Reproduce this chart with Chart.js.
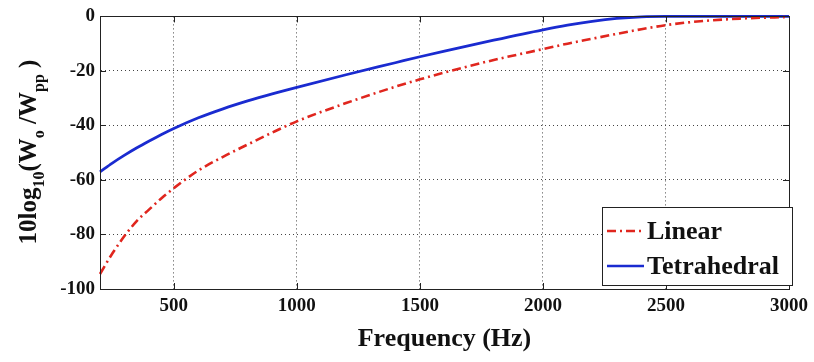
<!DOCTYPE html>
<html>
<head>
<meta charset="utf-8">
<script src="https://cdn.jsdelivr.net/npm/chart.js@4/dist/chart.umd.min.js"></script>
<style>
    html, body { margin: 0; padding: 0; background: #fff; }
    #wrap { width: 814px; height: 362px; position: relative; }
</style>
</head>
<body>
<div id="wrap"><canvas id="chart-atten"></canvas></div>
<script>
// Frequências (Hz) e atenuação 10log10(Wo/Wpp) em dB
const freqs = [200, 250, 300, 350, 400, 450, 500, 600, 700, 800, 900, 1000, 1200, 1400, 1500, 1600, 1800, 2000, 2100, 2200, 2300, 2400, 2500, 2600, 2800, 3000];
const linear = [-94.5, -87, -80.5, -75, -70.8, -66.7, -63, -56.5, -51.5, -47, -42.6, -38.5, -31.8, -25.8, -23.1, -20.6, -16, -12, -10, -8.2, -6.4, -4.7, -3.2, -2.1, -0.8, -0.2];
const tetrahedral = [-57, -53.8, -50.9, -48.2, -45.7, -43.3, -41.1, -37.2, -33.9, -31, -28.4, -26, -21.4, -17, -14.8, -12.7, -8.7, -4.9, -3.2, -1.8, -0.75, -0.15, 0, 0, 0, 0];
const seriesNames = ['Linear', 'Tetrahedral'];
const xTicks = [500, 1000, 1500, 2000, 2500, 3000];
const yTicks = [-100, -80, -60, -40, -20, 0];

const SERIF = '"Liberation Serif", "Times New Roman", serif';
const RED = '#e0261e';
const BLUE = '#1a2bd0';
const RED_DASH = [9, 4, 2, 4];

const pts = (ys) => freqs.map((f, i) => ({ x: f, y: ys[i] }));

// Moldura, ticks internos, legenda e rótulo do eixo Y (com subscritos)
const extras = {
    id: 'extras',
    afterDraw(chart) {
        const { ctx, chartArea: a, scales: { x, y } } = chart;
        ctx.save();
        ctx.strokeStyle = '#222';
        ctx.lineWidth = 1;
        ctx.setLineDash([]);
        ctx.strokeRect(Math.round(a.left) + 0.5, Math.round(a.top) + 0.5,
            Math.round(a.right - a.left), Math.round(a.bottom - a.top));

        // ticks para dentro
        ctx.beginPath();
        xTicks.forEach(v => {
            const px = Math.round(x.getPixelForValue(v)) + 0.5;
            ctx.moveTo(px, a.bottom); ctx.lineTo(px, a.bottom - 6);
            ctx.moveTo(px, a.top); ctx.lineTo(px, a.top + 6);
        });
        yTicks.forEach(v => {
            const py = Math.round(y.getPixelForValue(v)) + 0.5;
            ctx.moveTo(a.left, py); ctx.lineTo(a.left + 6, py);
            ctx.moveTo(a.right, py); ctx.lineTo(a.right - 6, py);
        });
        ctx.stroke();

        // legenda
        const bx = 602.5, by = 207.5, bw = 190, bh = 78;
        ctx.fillStyle = '#fff';
        ctx.fillRect(bx, by, bw, bh);
        ctx.strokeStyle = '#222';
        ctx.strokeRect(bx, by, bw, bh);
        const rows = [
            { label: seriesNames[0], color: RED, dash: RED_DASH, y: 231 },
            { label: seriesNames[1], color: BLUE, dash: [], y: 266 }
        ];
        rows.forEach(r => {
            ctx.beginPath();
            ctx.strokeStyle = r.color;
            ctx.lineWidth = 2.6;
            ctx.setLineDash(r.dash);
            ctx.moveTo(607, r.y); ctx.lineTo(644, r.y);
            ctx.stroke();
            ctx.setLineDash([]);
            ctx.fillStyle = '#111';
            ctx.font = 'bold 26px ' + SERIF;
            ctx.textAlign = 'left';
            ctx.textBaseline = 'middle';
            ctx.fillText(r.label, 647, r.y + 1);
        });

        // título do eixo Y: 10log10(Wo /Wpp )
        const parts = [
            ['10log', false], ['10', true], ['(W', false], ['o', true],
            [' /W', false], ['pp', true], [' )', false]
        ];
        const big = 'bold 25px ' + SERIF, small = 'bold 16px ' + SERIF;
        let total = 0;
        parts.forEach(([t, sub]) => { ctx.font = sub ? small : big; total += ctx.measureText(t).width; });
        ctx.translate(36, 152);
        ctx.rotate(-Math.PI / 2);
        ctx.fillStyle = '#111';
        ctx.textAlign = 'left';
        ctx.textBaseline = 'alphabetic';
        let cx = -total / 2;
        parts.forEach(([t, sub]) => {
            ctx.font = sub ? small : big;
            ctx.fillText(t, cx, sub ? 8 : 0);
            cx += ctx.measureText(t).width;
        });
        ctx.restore();
    }
};

const ctx = document.getElementById('chart-atten').getContext('2d');
new Chart(ctx, {
    type: 'line',
    data: {
        datasets: [
            {
                label: seriesNames[0],
                data: pts(linear),
                borderColor: RED,
                borderWidth: 2.6,
                borderDash: RED_DASH,
                pointRadius: 0,
                cubicInterpolationMode: 'monotone',
                clip: 4
            },
            {
                label: seriesNames[1],
                data: pts(tetrahedral),
                borderColor: BLUE,
                borderWidth: 2.8,
                pointRadius: 0,
                cubicInterpolationMode: 'monotone',
                clip: 4
            }
        ]
    },
    options: {
        responsive: true,
        maintainAspectRatio: false,
        animation: false,
        layout: { padding: { top: 10, right: 22, left: 0, bottom: 0 } },
        plugins: {
            legend: { display: false },
            tooltip: { enabled: false }
        },
        scales: {
            x: {
                type: 'linear',
                min: 200,
                max: 3000,
                afterBuildTicks: (s) => { s.ticks = xTicks.map(v => ({ value: v })); },
                afterFit: (s) => { s.height = 73; },
                grid: { color: '#444', lineWidth: 1, drawTicks: false },
                border: { display: true, color: '#222', dash: [1, 3] },
                ticks: {
                    color: '#111',
                    padding: 6,
                    maxRotation: 0,
                    callback: (v) => String(v),
                    font: { family: SERIF, size: 19, weight: 'bold' }
                },
                title: {
                    display: true,
                    text: 'Frequency (Hz)',
                    color: '#111',
                    padding: { top: 0, bottom: 7 },
                    font: { family: SERIF, size: 26, weight: 'bold' }
                }
            },
            y: {
                min: -100,
                max: 0,
                afterBuildTicks: (s) => { s.ticks = yTicks.map(v => ({ value: v })); },
                afterFit: (s) => { s.width = 100; },
                grid: { color: '#444', lineWidth: 1, drawTicks: false },
                border: { display: true, color: '#222', dash: [1, 3] },
                ticks: {
                    color: '#111',
                    padding: 5,
                    callback: (v) => String(v),
                    font: { family: SERIF, size: 19, weight: 'bold' }
                }
            }
        }
    },
    plugins: [extras]
});
</script>
</body>
</html>
